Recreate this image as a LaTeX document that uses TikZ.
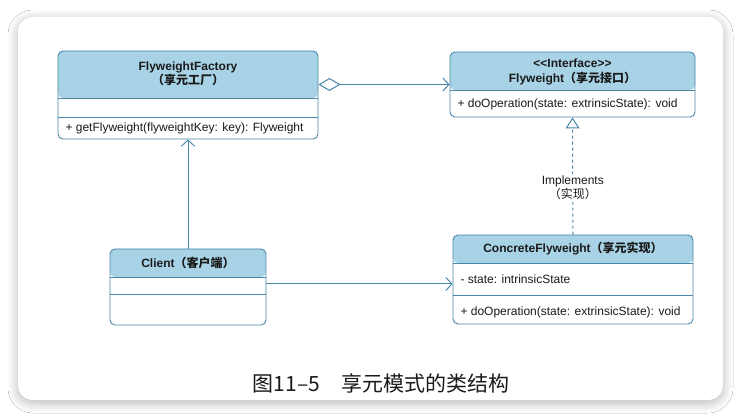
\documentclass[tikz,border=0pt]{standalone}
\usepackage{fontspec}
\setmainfont{Liberation Sans}
\newfontfamily\cjk{Noto Sans CJK SC}
\usepackage{tikz}
\usetikzlibrary{arrows.meta,shadows.blur}
\definecolor{umlline}{HTML}{4A86A8}
\definecolor{umlfill}{HTML}{A8D3E6}
\definecolor{umltext}{HTML}{1A1A1A}
\tikzset{>={Straight Barb[length=6pt,width=13pt]},font=\fontsize{12}{14.5}\selectfont,
  umlbox/.style={draw=umlline,line width=0.9pt,rounded corners=5pt,fill=white,inner sep=0pt,
    path picture={\fill[umlfill] (path picture bounding box.north west)
      rectangle ([yshift=-#1]path picture bounding box.north east);}},
  title/.style={font=\fontsize{12}{14.5}\selectfont\bfseries,text=umltext,align=center},
  member/.style={anchor=west,text=umltext},
  divider/.style={draw=umlline,line width=0.9pt},
  conn/.style={draw=umlline,line width=1pt}}

\begin{document}
\begin{tikzpicture}[x=1pt,y=-1pt]
\useasboundingbox (0,0) rectangle (742,419);
\fill[white] (0,0) rectangle (742,419);
\fill[white,rounded corners=15pt,blur shadow={shadow blur steps=14,shadow xshift=0pt,
  shadow yshift=-3pt,shadow blur radius=10pt,shadow opacity=28}] (18,17) rectangle (723,400);

% classes
\node[umlbox=47pt,minimum width=260pt,minimum height=88pt] (factory) at (188,95) {};
\node[umlbox=38pt,minimum width=245pt,minimum height=65pt] (flyweight) at (572.5,84.5) {};
\node[umlbox=28pt,minimum width=240pt,minimum height=89pt] (concrete) at (573,279.5) {};
\node[umlbox=28pt,minimum width=156pt,minimum height=76pt] (client) at (188,287) {};

\draw[divider] (factory.west |- 0,98) -- (factory.east |- 0,98);
\draw[divider] (factory.west |- 0,117) -- (factory.east |- 0,117);
\draw[divider] (flyweight.west |- 0,90) -- (flyweight.east |- 0,90);
\draw[divider] (concrete.west |- 0,263) -- (concrete.east |- 0,263);
\draw[divider] (concrete.west |- 0,295) -- (concrete.east |- 0,295);
\draw[divider] (client.west |- 0,277) -- (client.east |- 0,277);
\draw[divider] (client.west |- 0,294) -- (client.east |- 0,294);

\node[title] (factory-name) at (188,74) {FlyweightFactory\\{\cjk（享元工厂）}};
\node[member] (factory-op) at (62,128) {+ getFlyweight(flyweightKey: key): Flyweight};
\node[title] (flyweight-name) at (572.5,72) {<\kern0pt<Interface>\kern0pt>\\Flyweight{\cjk（享元接口）}};
\node[member] (flyweight-op) at (454,104) {+ doOperation(state: extrinsicState): void};
\node[title] (concrete-name) at (573,249) {ConcreteFlyweight{\cjk（享元实现）}};
\node[member] (concrete-state) at (457,279) {- state: intrinsicState};
\node[member] (concrete-op) at (457,312) {+ doOperation(state: extrinsicState): void};
\node[title] (client-name) at (188,263) {Client{\cjk（客户端）}};

% relations
\path (factory.east |- flyweight.west) edge[conn,{Diamond[open,length=22pt,width=13pt]}->] (flyweight.west);
\path (client.north) edge[conn,->] (factory.south);
\path ([yshift=3pt]client.east) edge[conn,->] ([yshift=3pt]concrete.west |- client.east);
\path (concrete.north) edge[conn,dash pattern=on 3pt off 3pt,-{Triangle[open,fill=white,length=11pt,width=14pt]}]
  node[pos=0.4,fill=white,text=umltext,align=center,inner sep=2pt]
  (impl-label) {Implements\\{\cjk（实现）}} (flyweight.south);

\node[text=umltext,font=\fontsize{21}{24}\selectfont] (caption) at (381,383)
  {\cjk 图11–5　享元模式的类结构};
\end{tikzpicture}
\end{document}
